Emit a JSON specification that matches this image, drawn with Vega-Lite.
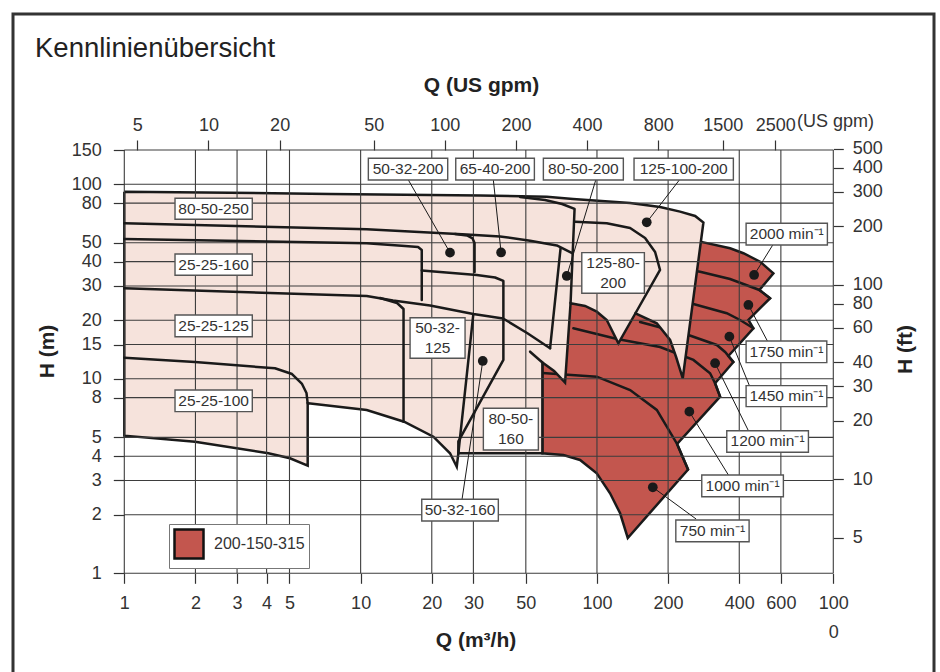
{
  "$schema": "https://vega.github.io/schema/vega-lite/v6.json",
  "width": 921,
  "height": 700,
  "autosize": {"type": "none"},
  "padding": {"left": 13, "top": 14, "right": 6, "bottom": 0},
  "background": "white",
  "title": {"text": "Kennlinienübersicht", "anchor": "start", "frame": "group", "orient": "top", "offset": 0, "dx": 22, "dy": 70, "baseline": "alphabetic", "fontSize": 27.5, "fontWeight": "normal", "color": "#222", "font": "Liberation Sans"},
  "config": {"font": "Liberation Sans", "view": {"stroke": "#333", "strokeWidth": 3}},
  "datasets": {
    "red": [
      {"pump":"200-150-315","i":0,"q":58.75,"h":45.95},
      {"pump":"200-150-315","i":1,"q":103.1,"h":52.96},
      {"pump":"200-150-315","i":2,"q":167.7,"h":54.23},
      {"pump":"200-150-315","i":3,"q":231.4,"h":52.96},
      {"pump":"200-150-315","i":4,"q":273.2,"h":50.69},
      {"pump":"200-150-315","i":5,"q":365.8,"h":46.88},
      {"pump":"200-150-315","i":6,"q":416.5,"h":44.19},
      {"pump":"200-150-315","i":7,"q":490.1,"h":39.99},
      {"pump":"200-150-315","i":8,"q":557.8,"h":34.86},
      {"pump":"200-150-315","i":9,"q":486.8,"h":28.61},
      {"pump":"200-150-315","i":10,"q":540.2,"h":25.94},
      {"pump":"200-150-315","i":11,"q":437.3,"h":20.06},
      {"pump":"200-150-315","i":12,"q":459.1,"h":18.18},
      {"pump":"200-150-315","i":13,"q":359.8,"h":13.1},
      {"pump":"200-150-315","i":14,"q":377.7,"h":12.2},
      {"pump":"200-150-315","i":15,"q":316.1,"h":9.482},
      {"pump":"200-150-315","i":16,"q":331.9,"h":8.091},
      {"pump":"200-150-315","i":17,"q":218.3,"h":4.623},
      {"pump":"200-150-315","i":18,"q":242.9,"h":3.418},
      {"pump":"200-150-315","i":19,"q":135.0,"h":1.519},
      {"pump":"200-150-315","i":20,"q":125.3,"h":2.035},
      {"pump":"200-150-315","i":21,"q":113.6,"h":2.578},
      {"pump":"200-150-315","i":22,"q":99.79,"h":3.267},
      {"pump":"200-150-315","i":23,"q":84.82,"h":3.824},
      {"pump":"200-150-315","i":24,"q":72.09,"h":4.057},
      {"pump":"200-150-315","i":25,"q":58.75,"h":4.14},
      {"pump":"200-150-315","i":26,"q":58.75,"h":45.95}
    ],
    "rlines": [
      {"id":"n1750","i":0,"q":125.3,"h":39.85},{"id":"n1750","i":1,"q":184.9,"h":38.46},{"id":"n1750","i":2,"q":273.2,"h":35.53},{"id":"n1750","i":3,"q":365.8,"h":32.59},{"id":"n1750","i":4,"q":486.8,"h":28.61},{"id":"n1750","i":5,"q":540.2,"h":25.94},
      {"id":"n1450","i":0,"q":125.3,"h":26.96},{"id":"n1450","i":1,"q":184.9,"h":26.03},{"id":"n1450","i":2,"q":255.9,"h":24.25},{"id":"n1450","i":3,"q":354.2,"h":21.72},{"id":"n1450","i":4,"q":403.3,"h":20.06},{"id":"n1450","i":5,"q":459.1,"h":18.18},
      {"id":"n1200","i":0,"q":152.2,"h":19.59},{"id":"n1200","i":1,"q":243.7,"h":16.8},{"id":"n1200","i":2,"q":321.4,"h":14.92},{"id":"n1200","i":3,"q":348.5,"h":13.73},{"id":"n1200","i":4,"q":377.7,"h":12.2},
      {"id":"n1000","i":0,"q":79.45,"h":18.18},{"id":"n1000","i":1,"q":121.7,"h":16.02},{"id":"n1000","i":2,"q":184.9,"h":14.57},{"id":"n1000","i":3,"q":255.9,"h":12.5},{"id":"n1000","i":4,"q":301.0,"h":10.67},{"id":"n1000","i":5,"q":316.1,"h":9.482},{"id":"n1000","i":6,"q":331.9,"h":8.091},
      {"id":"n750","i":0,"q":58.75,"h":10.71},{"id":"n750","i":1,"q":99.79,"h":10.25},{"id":"n750","i":2,"q":138.1,"h":8.757},{"id":"n750","i":3,"q":179.1,"h":6.914},{"id":"n750","i":4,"q":218.3,"h":4.623},{"id":"n750","i":5,"q":242.9,"h":3.418}
    ],
    "pink": [
      {"i":0,"q":1,"h":91.6},{"i":1,"q":7.42,"h":89.17},{"i":2,"q":32.02,"h":87.6},{"i":3,"q":61.32,"h":86.35},{"i":4,"q":79.23,"h":84.03},
      {"i":5,"q":138.1,"h":80.13},{"i":6,"q":184.9,"h":76.41},{"i":7,"q":224.7,"h":72.31},{"i":8,"q":260.2,"h":68.71},{"i":9,"q":282.1,"h":63.62},
      {"i":10,"q":230.7,"h":10.06},{"i":11,"q":216.2,"h":12.94},{"i":12,"q":203.9,"h":15.83},{"i":13,"q":179.1,"h":19.29},{"i":14,"q":145.5,"h":21.72},
      {"i":15,"q":123.2,"h":15.22},{"i":16,"q":110.0,"h":20.06},{"i":17,"q":99.79,"h":22.13},{"i":18,"q":89.06,"h":23.68},{"i":19,"q":77.32,"h":24.45},
      {"i":20,"q":73.28,"h":9.55},{"i":21,"q":65.85,"h":10.97},{"i":22,"q":58.75,"h":12.13},{"i":23,"q":58.75,"h":4.14},{"i":24,"q":25.91,"h":4.14},
      {"i":25,"q":25.51,"h":3.532},{"i":26,"q":23.89,"h":4.14},{"i":27,"q":20.31,"h":5.039},{"i":28,"q":15.27,"h":6.017},{"i":29,"q":10.61,"h":6.914},
      {"i":30,"q":6.005,"h":7.482},{"i":31,"q":5.97,"h":7.482},{"i":32,"q":5.97,"h":3.574},{"i":33,"q":5.025,"h":3.903},{"i":34,"q":4.07,"h":4.14},
      {"i":35,"q":1.991,"h":4.75},{"i":36,"q":1,"h":5.099},{"i":37,"q":1,"h":91.6}
    ],
    "plines": [
      {"id":"a1","i":0,"q":1,"h":63.02},{"id":"a1","i":1,"q":10.61,"h":58.7},{"id":"a1","i":2,"q":28.12,"h":55.2},{"id":"a1","i":3,"q":38.9,"h":53.91},{"id":"a1","i":4,"q":52.12,"h":51.29},{"id":"a1","i":5,"q":67.61,"h":48.46},{"id":"a1","i":6,"q":78.14,"h":44.35},
      {"id":"a2","i":0,"q":25.09,"h":55.53},{"id":"a2","i":1,"q":28.2,"h":54.56},{"id":"a2","i":2,"q":29.76,"h":52.65},{"id":"a2","i":3,"q":30.34,"h":49.92},{"id":"a2","i":4,"q":30.34,"h":35.4},
      {"id":"a3","i":0,"q":1,"h":52.34},{"id":"a3","i":1,"q":10.61,"h":49.75},{"id":"a3","i":2,"q":15.42,"h":48.18},{"id":"a3","i":3,"q":17.5,"h":47.61},{"id":"a3","i":4,"q":18.14,"h":45.95},{"id":"a3","i":5,"q":18.14,"h":25.42},
      {"id":"a4","i":0,"q":18.14,"h":36.04},{"id":"a4","i":1,"q":31.0,"h":34.17},{"id":"a4","i":2,"q":37.05,"h":33.17},{"id":"a4","i":3,"q":40.18,"h":31.83},{"id":"a4","i":4,"q":40.18,"h":12.5},{"id":"a4","i":5,"q":25.91,"h":4.761},{"id":"a4","i":6,"q":25.91,"h":4.14},
      {"id":"a5","i":0,"q":1,"h":29.19},{"id":"a5","i":1,"q":10.61,"h":26.65},{"id":"a5","i":2,"q":13.71,"h":25.27},{"id":"a5","i":3,"q":19.67,"h":23.82},{"id":"a5","i":4,"q":29.99,"h":21.54},{"id":"a5","i":5,"q":40.06,"h":20.42},{"id":"a5","i":6,"q":50.61,"h":17.2},{"id":"a5","i":7,"q":63.32,"h":14.35},
      {"id":"a6","i":0,"q":12.08,"h":26.03},{"id":"a6","i":1,"q":14.26,"h":24.53},{"id":"a6","i":2,"q":15.19,"h":22.85},{"id":"a6","i":3,"q":15.19,"h":6.017},
      {"id":"a7","i":0,"q":29.99,"h":21.54},{"id":"a7","i":1,"q":25.91,"h":4.14},
      {"id":"a8","i":0,"q":1,"h":12.84},{"id":"a8","i":1,"q":1.991,"h":12.2},{"id":"a8","i":2,"q":4.34,"h":11.32},{"id":"a8","i":3,"q":5.125,"h":10.58},{"id":"a8","i":4,"q":5.65,"h":9.404},{"id":"a8","i":5,"q":5.9,"h":8.453},{"id":"a8","i":6,"q":5.97,"h":7.482},
      {"id":"a9","i":0,"q":47.28,"h":86.05},{"id":"a9","i":1,"q":60.31,"h":83.06},{"id":"a9","i":2,"q":71.19,"h":79.18},{"id":"a9","i":3,"q":80.39,"h":74.64},{"id":"a9","i":4,"q":77.32,"h":24.45},
      {"id":"a10","i":0,"q":70.15,"h":46.88},{"id":"a10","i":1,"q":63.32,"h":14.35},
      {"id":"a11","i":0,"q":58.75,"h":12.13},{"id":"a11","i":1,"q":52.12,"h":13.78},
      {"id":"a12","i":0,"q":80.78,"h":64.23},{"id":"a12","i":1,"q":110.0,"h":63.02},{"id":"a12","i":2,"q":138.1,"h":59.62},{"id":"a12","i":3,"q":159.8,"h":52.96},{"id":"a12","i":4,"q":176.2,"h":44.87},{"id":"a12","i":5,"q":184.9,"h":36.25},{"id":"a12","i":6,"q":145.5,"h":21.72}
    ],
    "callouts": [
      {"id":"c1","i":0,"q":15.92,"h":105.2},{"id":"c1","i":1,"q":23.89,"h":44.5},
      {"id":"c2","i":0,"q":36.44,"h":105.2},{"id":"c2","i":1,"q":39.29,"h":44.61},
      {"id":"c3","i":0,"q":98.83,"h":105.2},{"id":"c3","i":1,"q":74.5,"h":33.76},
      {"id":"c4","i":0,"q":223.2,"h":105.2},{"id":"c4","i":1,"q":162.4,"h":63.77},
      {"id":"c5","i":0,"q":26.86,"h":2.402},{"id":"c5","i":1,"q":32.87,"h":12.35},
      {"id":"c6","i":0,"q":554.6,"h":48.75},{"id":"c6","i":1,"q":462.3,"h":34.17},
      {"id":"c7","i":0,"q":526.1,"h":15.64},{"id":"c7","i":1,"q":437.3,"h":23.96},
      {"id":"c8","i":0,"q":441.6,"h":9.216},{"id":"c8","i":1,"q":363.3,"h":16.46},
      {"id":"c9","i":0,"q":437.3,"h":5.409},{"id":"c9","i":1,"q":316.1,"h":12.02},
      {"id":"c10","i":0,"q":359.8,"h":3.202},{"id":"c10","i":1,"q":246.0,"h":6.775},
      {"id":"c11","i":0,"q":262.7,"h":1.902},{"id":"c11","i":1,"q":172.3,"h":2.768}
    ],
    "dots": [
      {"q":23.89,"h":44.5},{"q":39.29,"h":44.61},{"q":74.5,"h":33.76},{"q":162.4,"h":63.77},{"q":32.87,"h":12.35},
      {"q":462.3,"h":34.17},{"q":437.3,"h":23.96},{"q":363.3,"h":16.46},{"q":316.1,"h":12.02},{"q":246.0,"h":6.775},{"q":172.3,"h":2.768}
    ],
    "boxes": [
      {"t":"50-32-200","q1":10.78,"q2":23.36,"h1":136.1,"h2":105.2,"tq":15.87,"th":119.7},
      {"t":"65-40-200","q1":25.26,"q2":54.35,"h1":136.1,"h2":105.2,"tq":37.05,"th":119.7},
      {"t":"80-50-200","q1":59.32,"q2":129.3,"h1":136.1,"h2":105.2,"tq":87.58,"th":119.7},
      {"t":"125-100-200","q1":143.5,"q2":377.7,"h1":136.1,"h2":105.2,"tq":232.8,"th":119.7},
      {"t":"125-80-\n200","q1":86.25,"q2":158.7,"h1":44.5,"h2":27.52,"tq":117.0,"th":39.4},
      {"t":"50-32-\n125","q1":16.19,"q2":27.66,"h1":20.61,"h2":12.75,"tq":21.16,"th":18.25},
      {"t":"50-32-160","q1":18.14,"q2":38.25,"h1":2.402,"h2":1.857,"tq":26.34,"th":2.112},
      {"t":"80-50-\n160","q1":33.06,"q2":56.49,"h1":7.054,"h2":4.305,"tq":43.22,"th":6.202},
      {"t":"80-50-250","q1":1.639,"q2":3.48,"h1":84.73,"h2":66.07,"tq":2.388,"th":74.82},
      {"t":"25-25-160","q1":1.639,"q2":3.48,"h1":43.82,"h2":34.05,"tq":2.388,"th":38.63},
      {"t":"25-25-125","q1":1.639,"q2":3.48,"h1":21.28,"h2":16.46,"tq":2.388,"th":18.72},
      {"t":"25-25-100","q1":1.639,"q2":3.48,"h1":8.757,"h2":6.775,"tq":2.388,"th":7.703},
      {"t":"2000 min⁻¹","q1":427.6,"q2":944.1,"h1":63.02,"h2":48.75,"tq":635.4,"th":55.43},
      {"t":"1750 min⁻¹","q1":427.6,"q2":938.7,"h1":15.64,"h2":12.1,"tq":633.6,"th":13.76},
      {"t":"1450 min⁻¹","q1":427.6,"q2":938.7,"h1":9.216,"h2":7.19,"tq":633.6,"th":8.14},
      {"t":"1200 min⁻¹","q1":354.2,"q2":784.8,"h1":5.409,"h2":4.189,"tq":527.2,"th":4.76},
      {"t":"1000 min⁻¹","q1":277.6,"q2":614.9,"h1":3.202,"h2":2.476,"tq":413.2,"th":2.816},
      {"t":"750 min⁻¹","q1":215.6,"q2":440.3,"h1":1.879,"h2":1.454,"tq":308.1,"th":1.653}
    ],
    "vgrid": [{"q":1},{"q":2},{"q":3},{"q":4},{"q":5},{"q":10},{"q":20},{"q":30},{"q":50},{"q":100},{"q":200},{"q":400},{"q":600},{"q":1000}],
    "hgrid": [{"h":1},{"h":2},{"h":3},{"h":4},{"h":5},{"h":8},{"h":10},{"h":15},{"h":20},{"h":30},{"h":40},{"h":50},{"h":80},{"h":100},{"h":150}]
  },
  "layer": [
    {
      "layer": [
        {
          "data": {"name": "red"},
          "mark": {"type": "line", "stroke": "#1a1a1a", "strokeWidth": 2.5, "strokeJoin": "miter"},
          "encoding": {
            "x": {"field": "q", "type": "quantitative",
              "scale": {"type": "log", "domain": [1, 1000], "range": [111.3, 820.3], "nice": false, "zero": false},
              "axis": {"orient": "bottom", "offset": -140.7, "values": [1,2,3,4,5,10,20,30,50,100,200,400,600,1000], "format": "d",
                "labelExpr": "datum.value == 1000 ? ['100', '0'] : datum.label",
                "grid": false, "domain": false, "tickSize": 10, "tickColor": "#333", "tickWidth": 1.2,
                "labelFontSize": 18, "labelColor": "#333", "labelPadding": 11, "labelLineHeight": 29, "labelOverlap": false, "labelFlush": false, "labelBound": false,
                "title": "Q (m³/h)", "titleFontSize": 21, "titleFontWeight": "bold", "titleColor": "#222", "titleX": 462.5, "titleY": 67, "titleBaseline": "middle", "titleAlign": "center"}},
            "y": {"field": "h", "type": "quantitative",
              "scale": {"type": "log", "domain": [1, 150], "range": [559.3, 136], "nice": false, "zero": false},
              "axis": {"orient": "left", "offset": -111.3, "values": [1,2,3,4,5,8,10,15,20,30,40,50,80,100,150], "format": "d",
                "grid": false, "domain": false, "tickSize": 11, "tickColor": "#333", "tickWidth": 1.2,
                "labelFontSize": 18, "labelColor": "#333", "labelPadding": 12, "labelOverlap": false, "labelFlush": false, "labelBound": false,
                "title": "H (m)", "titleFontSize": 21, "titleFontWeight": "bold", "titleColor": "#222", "titleX": -77, "titleY": 337, "titleAngle": 270, "titleBaseline": "middle", "titleAlign": "center"}},
            "order": {"field": "i", "type": "quantitative"},
            "fill": {"field": "pump", "type": "nominal", "scale": {"range": ["#c3564e"]},
              "legend": {"orient": "none", "legendX": 156, "legendY": 510, "title": null, "symbolType": "square", "symbolSize": 841,
                "symbolFillColor": "#c3564e", "symbolStrokeColor": "#111", "symbolStrokeWidth": 2.5, "symbolOpacity": 1,
                "labelFontSize": 16, "labelColor": "#333", "labelOffset": 9, "padding": 4, "strokeColor": "#777", "fillColor": "white",
                "encode": {"symbols": {"update": {"fill": {"value": "#c3564e"}, "stroke": {"value": "#111"}, "strokeWidth": {"value": 2.5}, "shape": {"value": "square"}, "size": {"value": 841}, "opacity": {"value": 1}}}}}}
          }
        },
        {
          "data": {"name": "rlines"},
          "mark": {"type": "line", "stroke": "#1a1a1a", "strokeWidth": 2.5, "strokeCap": "round"},
          "encoding": {
            "x": {"field": "q", "type": "quantitative"},
            "y": {"field": "h", "type": "quantitative"},
            "detail": {"field": "id", "type": "nominal"},
            "order": {"field": "i", "type": "quantitative"}
          }
        },
        {
          "data": {"name": "pink"},
          "mark": {"type": "line", "fill": "#f6e3dc", "stroke": "#1a1a1a", "strokeWidth": 2.5, "strokeJoin": "miter"},
          "encoding": {
            "x": {"field": "q", "type": "quantitative"},
            "y": {"field": "h", "type": "quantitative"},
            "order": {"field": "i", "type": "quantitative"}
          }
        },
        {
          "data": {"name": "vgrid"},
          "mark": {"type": "rule", "stroke": "#3d3d3d", "strokeWidth": 1.1},
          "encoding": {
            "x": {"field": "q", "type": "quantitative"},
            "y": {"datum": 1},
            "y2": {"datum": 150}
          }
        },
        {
          "data": {"name": "hgrid"},
          "mark": {"type": "rule", "stroke": "#3d3d3d", "strokeWidth": 1.1},
          "encoding": {
            "y": {"field": "h", "type": "quantitative"},
            "x": {"datum": 1},
            "x2": {"datum": 1000}
          }
        },
        {
          "data": {"name": "plines"},
          "mark": {"type": "line", "stroke": "#1a1a1a", "strokeWidth": 2.5, "strokeCap": "round", "strokeJoin": "round"},
          "encoding": {
            "x": {"field": "q", "type": "quantitative"},
            "y": {"field": "h", "type": "quantitative"},
            "detail": {"field": "id", "type": "nominal"},
            "order": {"field": "i", "type": "quantitative"}
          }
        },
        {
          "data": {"name": "callouts"},
          "mark": {"type": "line", "stroke": "#1a1a1a", "strokeWidth": 1},
          "encoding": {
            "x": {"field": "q", "type": "quantitative"},
            "y": {"field": "h", "type": "quantitative"},
            "detail": {"field": "id", "type": "nominal"},
            "order": {"field": "i", "type": "quantitative"}
          }
        },
        {
          "data": {"name": "dots"},
          "mark": {"type": "circle", "size": 95, "color": "#1a1a1a", "opacity": 1},
          "encoding": {
            "x": {"field": "q", "type": "quantitative"},
            "y": {"field": "h", "type": "quantitative"}
          }
        },
        {
          "data": {"name": "boxes"},
          "mark": {"type": "rect", "fill": "white", "stroke": "#555", "strokeWidth": 1.4},
          "encoding": {
            "x": {"field": "q1", "type": "quantitative"},
            "x2": {"field": "q2"},
            "y": {"field": "h1", "type": "quantitative"},
            "y2": {"field": "h2"}
          }
        },
        {
          "data": {"name": "boxes"},
          "mark": {"type": "text", "align": "center", "baseline": "middle", "fontSize": 15.5, "color": "#333", "lineBreak": "\n", "lineHeight": 20},
          "encoding": {
            "x": {"field": "tq", "type": "quantitative"},
            "y": {"field": "th", "type": "quantitative"},
            "text": {"field": "t", "type": "nominal"}
          }
        },
        {
          "data": {"values": [{"q": 702.8, "h": 209.1, "t": "(US gpm)"}]},
          "mark": {"type": "text", "align": "left", "baseline": "middle", "fontSize": 18, "color": "#333"},
          "encoding": {
            "x": {"field": "q", "type": "quantitative"},
            "y": {"field": "h", "type": "quantitative"},
            "text": {"field": "t", "type": "nominal"}
          }
        }
      ]
    },
    {
      "data": {"values": [{"gpm": 4.4029, "ft": 3.2808}, {"gpm": 4402.9, "ft": 520}]},
      "mark": {"type": "point", "opacity": 0},
      "encoding": {
        "x": {"field": "gpm", "type": "quantitative",
          "scale": {"type": "log", "domain": [4.4029, 4402.9], "range": [111.3, 820.3], "nice": false, "zero": false},
          "axis": {"orient": "top", "offset": -136, "values": [5,10,20,50,100,200,400,800,1500,2500], "format": "d",
            "grid": false, "domain": false, "tickSize": 10, "tickColor": "#333", "tickWidth": 1.2,
            "labelFontSize": 18, "labelColor": "#333", "labelPadding": 6, "labelOverlap": false, "labelFlush": false, "labelBound": false,
            "title": "Q (US gpm)", "titleFontSize": 21, "titleFontWeight": "bold", "titleColor": "#222", "titleX": 468, "titleY": -65, "titleBaseline": "middle", "titleAlign": "center"}},
        "y": {"field": "ft", "type": "quantitative",
          "scale": {"type": "log", "domain": [3.2808, 520], "range": [559.3, 131.4], "nice": false, "zero": false},
          "axis": {"orient": "right", "offset": -100.7, "values": [5,10,20,30,40,60,80,100,200,300,400,500], "format": "d",
            "grid": false, "domain": false, "tickSize": 10, "tickColor": "#333", "tickWidth": 1.2,
            "labelFontSize": 18, "labelColor": "#333", "labelPadding": 9, "labelOverlap": false, "labelFlush": false, "labelBound": false,
            "title": "H (ft)", "titleFontSize": 21, "titleFontWeight": "bold", "titleColor": "#222", "titleX": 72, "titleY": 335, "titleAngle": 270, "titleBaseline": "middle", "titleAlign": "center"}}
      }
    }
  ],
  "resolve": {"scale": {"x": "independent", "y": "independent"}}
}
